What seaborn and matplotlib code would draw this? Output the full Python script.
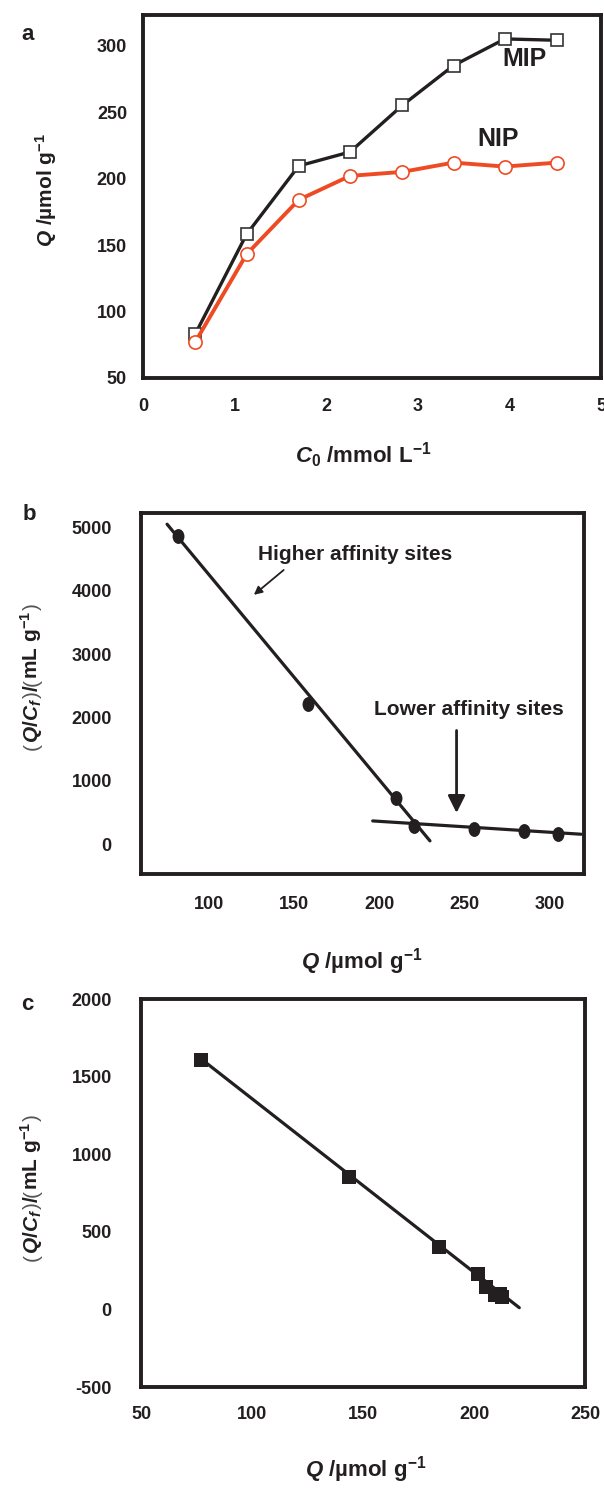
import numpy as np
import pandas as pd
import matplotlib
matplotlib.use("Agg")
import matplotlib.pyplot as plt
import seaborn as sns
from matplotlib.ticker import MultipleLocator
from matplotlib.markers import MarkerStyle
from matplotlib.transforms import Affine2D

# ---------------- data ----------------
c0 = [0.57, 1.13, 1.70, 2.26, 2.83, 3.39, 3.95, 4.52]
q_mip = [83, 158, 209.5, 220, 255, 285, 305, 304]
q_nip = [77, 143, 184, 202, 205, 212, 209, 212]

# Scatchard MIP (panel b)
b_q = [82, 158, 209.5, 220.5, 255.5, 285, 304.5]
b_ratio = [4860, 2210, 735, 290, 235, 215, 155]
b_high_q = [75.3, 229.6]
b_high_ratio = [5053, 53]
b_low_q = [196, 318.3]
b_low_ratio = [368, 158]

# Scatchard NIP (panel c)
c_q = [77, 143.9, 184.3, 201.8, 205.3, 209.5, 211.5, 212.5]
c_ratio = [1609, 854, 401, 225, 145, 95, 100, 80]
c_fit_q = [75.2, 220.4]
c_fit_ratio = [1635, 11]

# ---------------- style ----------------
sns.set_style("white")
plt.rcParams["font.family"] = ["Liberation Sans", "Noto Sans CJK SC", "DejaVu Sans"]
plt.rcParams["font.weight"] = "bold"
plt.rcParams["mathtext.fontset"] = "custom"
plt.rcParams["mathtext.rm"] = "Liberation Sans:bold"
plt.rcParams["mathtext.it"] = "Liberation Sans:italic:bold"
plt.rcParams["mathtext.bf"] = "Liberation Sans:bold"
plt.rcParams["axes.unicode_minus"] = False

BLACK = "#231F20"
RED = "#EE4B24"

W, H = 604, 1493
fig = plt.figure(figsize=(W / 100, H / 100), dpi=100)


def box(l, r, t, b):
    return [l / W, 1 - b / H, (r - l) / W, (b - t) / H]


axa = fig.add_axes(box(143, 601, 15, 378))
axb = fig.add_axes(box(141, 584, 513, 874))
axc = fig.add_axes(box(141, 585, 999, 1387))


def style_axis(ax, xpad, ypad):
    for s in ax.spines.values():
        s.set_linewidth(2.8)
        s.set_color(BLACK)
    ax.tick_params(which="major", direction="out", length=5, width=2.5,
                   labelsize=13, color=BLACK, labelcolor=BLACK)
    ax.tick_params(which="minor", direction="out", length=3.5, width=2.5, color=BLACK)
    ax.tick_params(axis="x", which="major", pad=xpad)
    ax.tick_params(axis="y", which="major", pad=ypad)
    for lab in ax.get_xticklabels() + ax.get_yticklabels():
        lab.set_fontweight("bold")
    ax.set_xlabel("")
    ax.set_ylabel("")


# ---------------- panel a ----------------
df_a = pd.DataFrame({"c0": c0, "MIP": q_mip, "NIP": q_nip})
sns.lineplot(data=df_a, x="c0", y="MIP", ax=axa, color=BLACK, linewidth=2.4,
             marker="s", markersize=8.5, markerfacecolor="white",
             markeredgecolor="#333333", markeredgewidth=1.2, zorder=3)
sns.lineplot(data=df_a, x="c0", y="NIP", ax=axa, color=RED, linewidth=2.8,
             marker="o", markersize=9.5, markerfacecolor="white",
             markeredgecolor=RED, markeredgewidth=1.2, zorder=3)
axa.set_xlim(0, 5)
axa.set_ylim(50, 323)
axa.xaxis.set_major_locator(MultipleLocator(1))
axa.xaxis.set_minor_locator(MultipleLocator(0.5))
axa.yaxis.set_major_locator(MultipleLocator(50))
axa.yaxis.set_minor_locator(MultipleLocator(25))
style_axis(axa, xpad=9.5, ypad=6.5)
axa.text(4.17, 290, "MIP", fontsize=18, fontweight="bold", ha="center", va="center", color=BLACK)
axa.text(3.88, 229.6, "NIP", fontsize=18, fontweight="bold", ha="center", va="center", color=BLACK)

# ---------------- panel b ----------------
ellipse = MarkerStyle("o", transform=Affine2D().scale(0.8, 1.0))
df_b = pd.DataFrame({"Q": b_q, "R": b_ratio})
sns.lineplot(x=b_high_q, y=b_high_ratio, ax=axb, color=BLACK, linewidth=2.3)
sns.lineplot(x=b_low_q, y=b_low_ratio, ax=axb, color=BLACK, linewidth=2.3)
sns.scatterplot(data=df_b, x="Q", y="R", ax=axb, color=BLACK, marker=ellipse,
                s=115, edgecolor=BLACK, linewidth=0, zorder=4)
axb.set_xlim(60, 320)
axb.set_ylim(-470, 5230)
axb.xaxis.set_major_locator(MultipleLocator(50))
axb.xaxis.set_minor_locator(MultipleLocator(25))
axb.yaxis.set_major_locator(MultipleLocator(1000))
axb.yaxis.set_minor_locator(MultipleLocator(500))
style_axis(axb, xpad=11, ypad=16)
axb.text(185.8, 4568, "Higher affinity sites", fontsize=15, fontweight="bold",
         ha="center", va="center", color=BLACK)
axb.annotate("", xy=(125, 3910), xytext=(145, 4358),
             arrowprops=dict(arrowstyle="-|>", lw=1.3, color=BLACK, mutation_scale=12))
axb.text(252.6, 2121, "Lower affinity sites", fontsize=15, fontweight="bold",
         ha="center", va="center", color=BLACK)
axb.annotate("", xy=(245.2, 450), xytext=(245.2, 1840),
             arrowprops=dict(arrowstyle="-|>", lw=2.0, color=BLACK, mutation_scale=26))

# ---------------- panel c ----------------
df_c = pd.DataFrame({"Q": c_q, "R": c_ratio})
sns.lineplot(x=c_fit_q, y=c_fit_ratio, ax=axc, color=BLACK, linewidth=2.3)
sns.scatterplot(data=df_c, x="Q", y="R", ax=axc, color=BLACK, marker="s",
                s=90, edgecolor=BLACK, linewidth=0, zorder=4)
axc.set_xlim(50, 250)
axc.set_ylim(-500, 2000)
axc.xaxis.set_major_locator(MultipleLocator(50))
axc.xaxis.set_minor_locator(MultipleLocator(25))
axc.yaxis.set_major_locator(MultipleLocator(500))
axc.yaxis.set_minor_locator(MultipleLocator(250))
style_axis(axc, xpad=9, ypad=16)

# ---------------- labels ----------------
def fx(px):
    return px / W


def fy(py):
    return 1 - py / H


lab_kw = dict(fontsize=16, fontweight="bold", color=BLACK, ha="center", va="center")
for (px, py, s) in [(28, 35, "a"), (29, 514, "b"), (27, 1005, "c")]:
    fig.text(fx(px), fy(py), s, fontsize=16, fontweight="bold", color=BLACK,
             ha="center", va="center")

fig.text(fx(363), fy(455), r"$C_{0}$ /mmol L$^{-1}$", **lab_kw)
fig.text(fx(362), fy(962), r"$Q$ /µmol g$^{-1}$", **lab_kw)
fig.text(fx(366), fy(1470), r"$Q$ /µmol g$^{-1}$", **lab_kw)

fig.text(fx(46), fy(190), r"$Q$ /µmol g$^{-1}$", fontsize=15, fontweight="bold",
         color=BLACK, ha="center", va="center", rotation=90)


def vertical_label(x_center_px, y_center_px, pieces, size):
    """Stack rotated text pieces bottom-to-top, centred at the given pixel."""
    renderer = fig.canvas.get_renderer()
    objs = []
    for s, kw in pieces:
        props = dict(color=BLACK)
        props.update(kw)
        t = fig.text(0, 0, s, rotation=90, rotation_mode="anchor", ha="left",
                     va="baseline", fontsize=size, **props)
        objs.append(t)
    lengths = [t.get_window_extent(renderer).height for t in objs]
    total = sum(lengths)
    pos = (H - y_center_px) - total / 2
    xb = x_center_px + 0.36 * size * 100 / 72
    for t, L in zip(objs, lengths):
        t.set_position((xb / W, pos / H))
        pos += L


thin = dict(fontweight="normal", color="#555555")
bold = dict(fontweight="bold")
ratio_pieces = [
    ("(", thin),
    (r"$Q/C_{f}$", bold),
    (")", thin),
    ("/", bold),
    ("(", thin),
    (r"mL g$^{-1}$", bold),
    (")", thin),
]
vertical_label(30, 677, ratio_pieces, 15)
vertical_label(30, 1188, ratio_pieces, 15)

fig.savefig("out.png", dpi=100, facecolor="white")
